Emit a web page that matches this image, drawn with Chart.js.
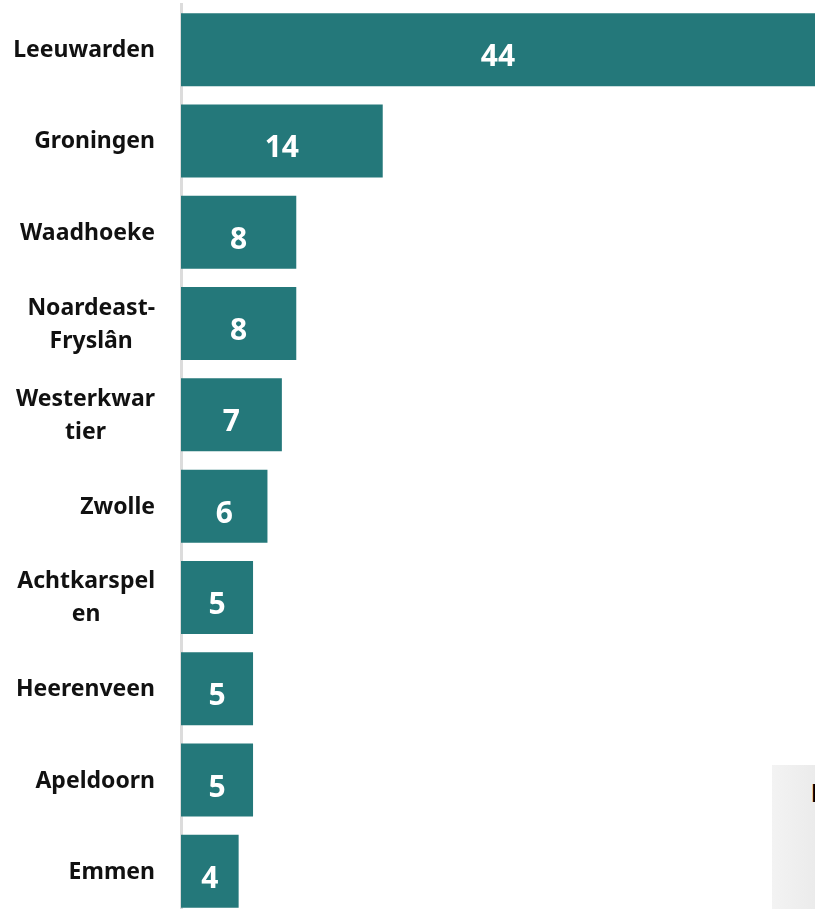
<!DOCTYPE html>
<html>
<head>
<meta charset="utf-8">
<script src="https://cdn.jsdelivr.net/npm/chart.js@4/dist/chart.umd.min.js"></script>
<style>
  html, body { margin: 0; padding: 0; background: #ffffff; overflow: hidden; width: 815px; height: 909px; }
  #wrap { position: absolute; left: 0; top: 0; width: 815px; height: 917px; }
  #side { position: absolute; left: 772px; top: 765px; width: 43px; height: 144px; overflow: hidden;
          background: linear-gradient(to right, #f3f3f3, #ebebeb); }
  #side span { position: absolute; left: 39px; top: 16px; font: 700 24px Lato, sans-serif; line-height: 24px; color: #000; white-space: nowrap; }
</style>
</head>
<body>
<div id="wrap"><canvas id="c" width="815" height="917"></canvas></div>
<div id="side"><span>D</span></div>
<script>
const categories = [
  ["Leeuwarden"],
  ["Groningen"],
  ["Waadhoeke"],
  ["Noardeast-", "Fryslân"],
  ["Westerkwar", "tier"],
  ["Zwolle"],
  ["Achtkarspel", "en"],
  ["Heerenveen"],
  ["Apeldoorn"],
  ["Emmen"]
];
const values = [44, 14, 8, 8, 7, 6, 5, 5, 5, 4];
const barColor = "#24787a";

const labelPlugin = {
  id: "labelPlugin",
  afterDraw(chart) {
    const ctx = chart.ctx;
    const yScale = chart.scales.y;
    ctx.save();
    ctx.font = "700 23px 'Noto Sans', sans-serif";
    ctx.fillStyle = "#111111";
    ctx.textBaseline = "middle";
    ctx.textAlign = "center";
    const rightEdge = 155;
    const lineH = 33;
    categories.forEach((lines, i) => {
      const yc = yScale.getPixelForValue(i);
      const maxW = Math.max(...lines.map(l => ctx.measureText(l).width));
      const cx = rightEdge - maxW / 2;
      const y0 = yc - (lines.length - 1) * lineH / 2;
      lines.forEach((l, k) => ctx.fillText(l, cx, y0 + k * lineH + 1));
    });
    ctx.restore();
    ctx.save();
    ctx.font = "700 30px 'Noto Sans', sans-serif";
    ctx.fillStyle = "#ffffff";
    ctx.textBaseline = "middle";
    ctx.textAlign = "center";
    const meta = chart.getDatasetMeta(0);
    meta.data.forEach((bar, i) => {
      const cx = (bar.base + bar.x) / 2;
      ctx.fillText(String(values[i]), cx, bar.y + 8);
    });
    ctx.restore();
  }
};

new Chart(document.getElementById("c"), {
  type: "bar",
  data: {
    labels: categories.map(l => l.join(" ")),
    datasets: [{
      data: values,
      backgroundColor: barColor,
      borderWidth: 0,
      barPercentage: 0.8,
      categoryPercentage: 1.0
    }]
  },
  options: {
    indexAxis: "y",
    responsive: false,
    animation: false,
    layout: { padding: { left: 0, right: 0, top: 4, bottom: 0 } },
    plugins: { legend: { display: false }, tooltip: { enabled: false } },
    scales: {
      x: { display: false, min: 0, max: 44 },
      y: {
        grid: { display: false, drawTicks: false },
        ticks: { display: false },
        border: { display: true, color: "#dcdcdc", width: 3 },
        afterFit(scale) { scale.width = 181; }
      }
    }
  },
  plugins: [labelPlugin]
});
</script>
</body>
</html>
